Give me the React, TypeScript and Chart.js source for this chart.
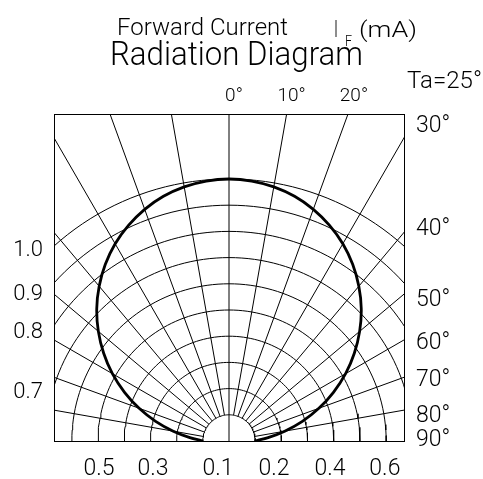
import React, { useEffect, useRef } from "react";
import { Chart, registerables } from "chart.js";

Chart.register(...registerables);

// ---- data ----
const ringRadii = [0.1, 0.2, 0.3, 0.4, 0.5, 0.6, 0.7, 0.8, 0.9, 1.0];
const gridAngles = [-80, -70, -60, -50, -40, -30, -20, -10, 0, 10, 20, 30, 40, 50, 60, 70, 80];
const curveAngles = [
  -90, -85, -80, -75, -70, -65, -60, -55, -50, -45, -40, -35, -30, -25, -20, -15, -10, -5, 0,
  5, 10, 15, 20, 25, 30, 35, 40, 45, 50, 55, 60, 65, 70, 75, 80, 85, 90,
];
const curveIntensity = [
  0.098, 0.15, 0.216, 0.29, 0.365, 0.44, 0.514, 0.584, 0.651, 0.714, 0.771, 0.823, 0.869, 0.908, 0.941, 0.967, 0.985, 0.996, 1.0,
  0.996, 0.985, 0.967, 0.941, 0.908, 0.869, 0.823, 0.771, 0.714, 0.651, 0.584, 0.514, 0.44, 0.365, 0.29, 0.216, 0.15, 0.098,
];

const bottomTickValues = [-0.496, -0.29, -0.042, 0.172, 0.386, 0.595];
const bottomTickLabels = ["0.5", "0.3", "0.1", "0.2", "0.4", "0.6"];
const leftTickValues = [0.737, 0.569, 0.424, 0.195];
const leftTickLabels = ["1.0", "0.9", "0.8", "0.7"];
const rightTickValues = [1.214, 0.821, 0.55, 0.386, 0.244, 0.107, 0.015];
const rightTickLabels = ["30°", "40°", "50°", "60°", "70°", "80°", "90°"];
const topTickValues = [0.019, 0.239, 0.477];
const topTickLabels = ["0°", "10°", "20°"];

const FONT = "Roboto, 'DejaVu Sans', sans-serif";
const WEIGHT = 300;

const rad = (d: number) => (d * Math.PI) / 180;

function arcPoints(r: number) {
  const pts: { x: number; y: number }[] = [];
  for (let a = -90; a <= 90; a += 2) pts.push({ x: r * Math.sin(rad(a)), y: r * Math.cos(rad(a)) });
  return pts;
}

function spokePoints(a: number) {
  const r0 = a === 0 ? 0 : ringRadii[0];
  return [
    { x: r0 * Math.sin(rad(a)), y: r0 * Math.cos(rad(a)) },
    { x: 3 * Math.sin(rad(a)), y: 3 * Math.cos(rad(a)) },
  ];
}

function fitText(ctx: CanvasRenderingContext2D, text: string, x0: number, x1: number, baseline: number, size: number) {
  ctx.save();
  ctx.font = `${WEIGHT} ${size}px ${FONT}`;
  ctx.fillStyle = "#000";
  ctx.textBaseline = "alphabetic";
  ctx.textAlign = "left";
  const w = ctx.measureText(text).width;
  ctx.translate(x0, baseline);
  ctx.scale((x1 - x0) / w, 1);
  ctx.fillText(text, 0, 0);
  ctx.restore();
}

const titlePlugin = {
  id: "titles",
  afterDraw(chart: any) {
    const ctx = chart.ctx as CanvasRenderingContext2D;
    fitText(ctx, "Forward Current", 117, 288, 35, 23);
    fitText(ctx, "I", 334, 338, 37, 23);
    fitText(ctx, "F", 345, 352, 46, 14);
    fitText(ctx, "(mA)", 359, 417, 37, 22);
    fitText(ctx, "Radiation Diagram", 110, 363, 65, 33);
    fitText(ctx, "Ta=25°", 407, 482, 88, 24);
  },
};

function axis(position: string, min: number, max: number, size: number, values: number[], labels: string[], fontSize: number, padding: number, labelOffset: number) {
  const horizontal = position === "top" || position === "bottom";
  return {
    type: "linear",
    position,
    min,
    max,
    grid: { display: false, drawTicks: false },
    border: { display: true, color: "#000", width: 1 },
    afterFit(s: any) {
      if (horizontal) s.height = size;
      else s.width = size;
    },
    afterBuildTicks(s: any) {
      s.ticks = values.map((v) => ({ value: v }));
    },
    ticks: {
      autoSkip: false,
      maxRotation: 0,
      minRotation: 0,
      padding,
      labelOffset,
      color: "#000",
      font: { family: FONT, size: fontSize, weight: WEIGHT },
      callback: (_v: any, i: number) => labels[i],
    },
  };
}

export default function App() {
  const ref = useRef<HTMLCanvasElement | null>(null);

  useEffect(() => {
    if (!ref.current) return;
    const xMin = -0.668, xMax = 0.668, yMin = 0, yMax = 1.248;
    const line = { borderColor: "#000", borderWidth: 1, pointRadius: 0, showLine: true, clip: 0, xAxisID: "x", yAxisID: "y" };
    const datasets: any[] = ringRadii.map((r) => ({ ...line, data: arcPoints(r) }));
    gridAngles.forEach((a) => datasets.push({ ...line, data: spokePoints(a) }));
    datasets.push({
      ...line,
      data: curveAngles.map((a, i) => ({
        x: curveIntensity[i] * Math.sin(rad(a)),
        y: curveIntensity[i] * Math.cos(rad(a)),
      })),
      borderWidth: 2.8,
      tension: 0.35,
    });

    const chart = new Chart(ref.current, {
      type: "scatter",
      data: { datasets },
      options: {
        animation: false,
        responsive: false,
        layout: { padding: 0 },
        plugins: { legend: { display: false }, tooltip: { enabled: false }, title: { display: false } },
        scales: {
          x: axis("bottom", xMin, xMax, 38, bottomTickValues, bottomTickLabels, 23, 14, 0),
          x2: axis("top", xMin, xMax, 114, topTickValues, topTickLabels, 19, 6, 0),
          y: axis("left", yMin, yMax, 54, leftTickValues, leftTickLabels, 22, 11, 3),
          y2: axis("right", yMin, yMax, 79, rightTickValues, rightTickLabels, 23, 12, 3),
        } as any,
      },
      plugins: [titlePlugin],
    });
    return () => chart.destroy();
  }, []);

  return (
    <div style={{ position: "absolute", left: 0, top: 0, width: 483, height: 479, background: "#fff" }}>
      <canvas ref={ref} width={483} height={479} style={{ display: "block" }} />
    </div>
  );
}
